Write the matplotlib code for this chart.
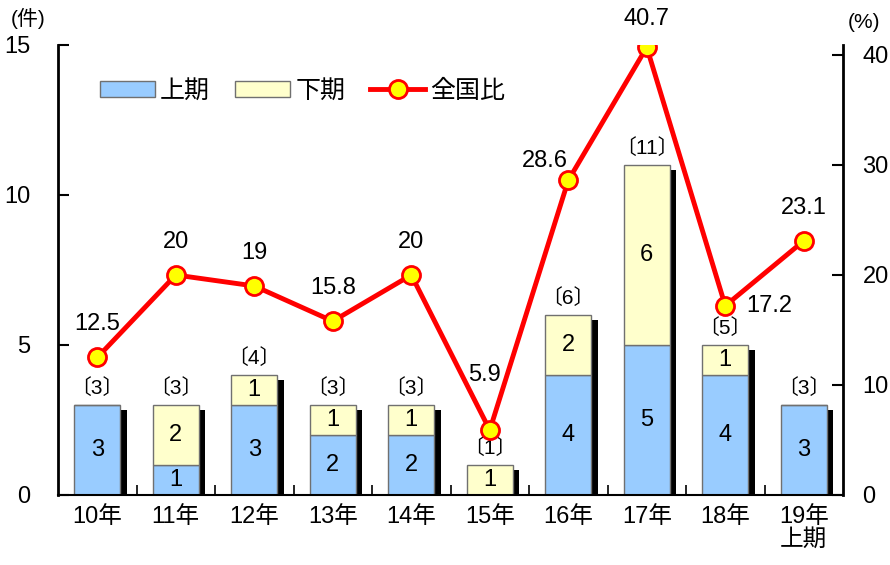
import numpy as np
import matplotlib.pyplot as plt
from matplotlib.patches import Patch
from matplotlib.lines import Line2D

plt.rcParams['font.family'] = ['Liberation Sans', 'Noto Sans CJK JP']

# 年度別の件数（上期・下期）と全国比（%）
years = ['10年', '11年', '12年', '13年', '14年', '15年', '16年', '17年', '18年', '19年\n上期']
first_half = [3, 1, 3, 2, 2, 0, 4, 5, 4, 3]
second_half = [0, 2, 1, 1, 1, 1, 2, 6, 1, 0]
ratio = [12.5, 20, 19, 15.8, 20, 5.9, 28.6, 40.7, 17.2, 23.1]

# 全国比ラベルの位置（マーカーからのずれ, pt）
label_offset = [(0, 24), (0, 24), (0, 24), (0, 24), (0, 24),
                (-4, 40), (-17, 14), (0, 20), (15, 0), (0, 24)]

first_half = np.array(first_half)
second_half = np.array(second_half)
total = first_half + second_half
x = np.arange(len(years))

fig = plt.figure(figsize=(8.9, 5.65), dpi=100)
ax = fig.add_axes([0.0652, 0.1239, 0.8820, 0.7965])

w = 0.59
blue = '#99CCFF'
yellow = '#FFFFCC'

# 影（右下にずらした黒い棒）
ax.bar(x + 0.078, total - 0.17, width=w, color='black', zorder=1)
ax.bar(x, first_half, width=w, color=blue, edgecolor='#707070', linewidth=1, zorder=2)
ax.bar(x, second_half, width=w, bottom=first_half, color=yellow,
       edgecolor='#707070', linewidth=1, zorder=2)

for i in range(len(x)):
    if first_half[i] > 0:
        ax.text(x[i], first_half[i] / 2, str(first_half[i]), ha='center', va='center',
                fontsize=17, zorder=3)
    if second_half[i] > 0:
        ax.text(x[i], first_half[i] + second_half[i] / 2, str(second_half[i]),
                ha='center', va='center', fontsize=17, zorder=3)
    ax.text(x[i], total[i] + 0.25, '〔%d〕' % total[i], ha='center', va='bottom',
            fontsize=15, zorder=3)

ax.set_xlim(-0.5, len(x) - 0.5)
ax.set_ylim(0, 15)
ax.set_yticks([0, 5, 10, 15])
ax.set_xticks(x)
ax.set_xticklabels(years, fontsize=17, linespacing=1.05)
ax.set_xticks(np.arange(0.5, len(x) - 0.5, 1), minor=True)
ax.tick_params(axis='x', which='major', length=0, pad=8)
ax.tick_params(axis='x', which='minor', length=7, direction='in', width=1.2)
ax.tick_params(axis='y', direction='in', length=8, width=1.5, labelsize=17, pad=20)
for s in ['top', 'right']:
    ax.spines[s].set_visible(False)
ax.spines['left'].set_linewidth(2)
ax.spines['bottom'].set_linewidth(1.5)

ax2 = ax.twinx()
ax2.set_ylim(0, 15 * 40 / 14.667)
ax2.set_yticks([0, 10, 20, 30, 40])
ax2.plot(x, ratio, color='red', linewidth=3.5, marker='o', markersize=13,
         markerfacecolor='#FFFF00', markeredgecolor='red', markeredgewidth=2, zorder=5)
ax2.tick_params(axis='y', direction='in', length=8, width=1.5, labelsize=17, pad=14)
for s in ['top', 'left', 'bottom']:
    ax2.spines[s].set_visible(False)
ax2.spines['right'].set_linewidth(2)

# 全国比のラベル
for i, v in enumerate(ratio):
    dx, dy = label_offset[i]
    ha = 'left' if dx > 5 else 'center'
    ax2.annotate('%g' % v, (x[i], v), xytext=(dx, dy), textcoords='offset points',
                 ha=ha, va='center', fontsize=17)

fig.text(0.012, 0.968, '(件)', fontsize=15, ha='left', va='center')
fig.text(0.952, 0.960, '(%)', fontsize=15, ha='left', va='center')

handles = [
    Patch(facecolor=blue, edgecolor='#707070', label='上期'),
    Patch(facecolor=yellow, edgecolor='#707070', label='下期'),
    Line2D([], [], color='red', linewidth=3.5, marker='o', markersize=13,
           markerfacecolor='#FFFF00', markeredgecolor='red', markeredgewidth=2, label='全国比'),
]
ax.legend(handles=handles, ncol=3, frameon=False, fontsize=18, loc='upper left',
          bbox_to_anchor=(0.025, 0.975), handlelength=2.2, handleheight=0.6,
          handletextpad=0.2, columnspacing=1.0)

fig.savefig('out.png', dpi=100)
